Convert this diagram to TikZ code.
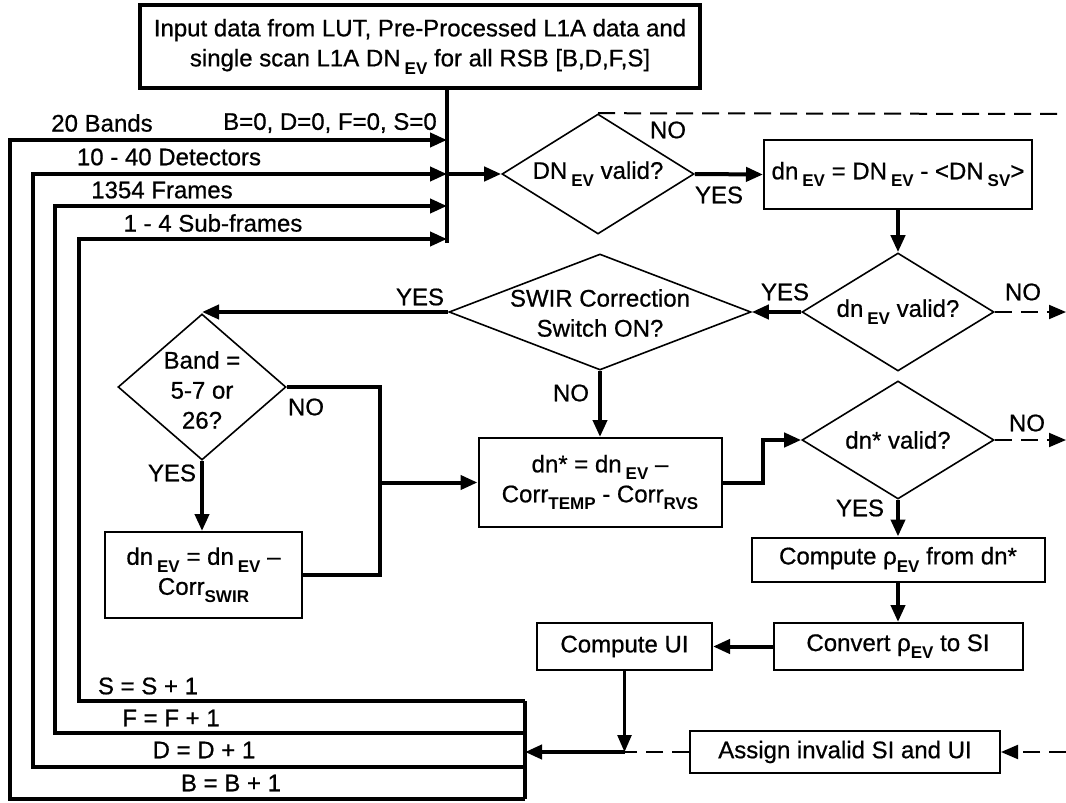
\documentclass[tikz,border=0pt]{standalone}
\usepackage{fontspec}
\setmainfont{Liberation Sans}[UprightFeatures={FakeBold=0.7}]
\usetikzlibrary{arrows.meta,shapes.geometric}
\newcommand{\sbs}[1]{\raisebox{-0.32em}{\fontsize{17}{17}\selectfont\bfseries #1}}
\tikzset{every picture/.style={line width=1.6pt},
  box/.style={draw,rectangle,line width=2pt,inner sep=0pt,align=center},
  dia/.style={draw,diamond,line width=1.6pt,inner sep=0pt},
  lbl/.style={inner sep=0pt,align=center,font=\fontsize{24}{30}\selectfont},
  thk/.style={line width=4pt},
  arr/.style={-{Triangle[length=17pt,width=14pt]}},
  dsh/.style={line width=2pt,dash pattern=on 17pt off 9pt},
}

\begin{document}
\begin{tikzpicture}[x=1pt,y=1pt,yscale=-1,xscale=1,font=\fontsize{24}{30}\selectfont]
\useasboundingbox (0,0) rectangle (1066,803);

%Shape: Rectangle
\node[box,line width=4pt,minimum width=560pt,minimum height=83pt] (input) at (420,46.5) {Input data from LUT, Pre-Processed L1A data and\\single scan L1A DN\,\sbs{EV} for all RSB [B,D,F,S]};
%Shape: Diamond
\node[dia,minimum width=192pt,minimum height=120pt] (dnv) at (598,174) {};
\node[lbl] (dnvt) at (dnv) {DN\,\sbs{EV} valid?};
%Shape: Rectangle
\node[box,minimum width=268pt,minimum height=69pt] (dnev) at (898,174.5) {dn\,\sbs{EV} = DN\,\sbs{EV} - <DN\,\sbs{SV}>};
%Shape: Diamond
\node[dia,minimum width=192pt,minimum height=118pt] (dnevv) at (898,312) {};
\node[lbl] (dnevvt) at (dnevv) {dn\,\sbs{EV} valid?};
%Shape: Diamond
\node[dia,minimum width=302pt,minimum height=116pt] (swir) at (600,312) {};
\node[lbl] (swirt) at (600,313) {SWIR Correction\\Switch ON?};
%Shape: Diamond
\node[dia,minimum width=168pt,minimum height=146pt] (band) at (202,387) {};
\node[lbl] (bandt) at (202,390) {Band =\\5-7 or\\26?};
%Shape: Rectangle
\node[box,minimum width=197pt,minimum height=86pt] (swirbox) at (203.5,575) {dn\,\sbs{EV} = dn\,\sbs{EV} --\\Corr\sbs{SWIR}};
%Shape: Rectangle
\node[box,minimum width=243pt,minimum height=89pt] (dnstar) at (600,482.5) {dn* = dn\,\sbs{EV} --\\Corr\sbs{TEMP} - Corr\sbs{RVS}};
%Shape: Diamond
\node[dia,minimum width=192pt,minimum height=118pt] (dnsv) at (898,440) {};
\node[lbl] (dnsvt) at (dnsv) {dn* valid?};
%Shape: Rectangle
\node[box,minimum width=293pt,minimum height=44pt] (rho) at (898,559.5) {Compute ρ\sbs{EV} from dn*};
%Shape: Rectangle
\node[box,minimum width=249pt,minimum height=47pt] (conv) at (898,646.5) {Convert ρ\sbs{EV} to SI};
%Shape: Rectangle
\node[box,minimum width=175pt,minimum height=47pt] (ui) at (624.5,646.5) {Compute UI};
%Shape: Rectangle
\node[box,minimum width=310pt,minimum height=42pt] (assign) at (845,752) {Assign invalid SI and UI};

% Coordinates
\coordinate (busT) at (447,88);
\coordinate (busB) at (447,243);
\coordinate (inB) at (447,140);
\coordinate (inD) at (447,174);
\coordinate (inF) at (447,206);
\coordinate (inS) at (447,239);
\coordinate (retS) at (525,701);
\coordinate (retF) at (525,733);
\coordinate (ret) at (525,752);
\coordinate (retD) at (525,767);
\coordinate (retB) at (525,799);
\coordinate (jn) at (380,482.5);
\coordinate (merge) at (624.5,752);
\coordinate (outA) at (1066,114);
\coordinate (outB) at (1066,312);
\coordinate (outC) at (1066,440);
\coordinate (outD) at (1066,752);

%Straight Lines
\draw[thk] (busT) -- (busB);
\draw[thk,arr] (retB) -- ++(-515,0) |- (inB);
\draw[thk,arr] (retD) -- ++(-492,0) |- (inD);
\draw[thk,arr] (retF) -- ++(-470,0) |- (inF);
\draw[thk,arr] (retS) -- ++(-446,0) |- (inS);
\draw[thk] (retS) -- (retB);
\draw[thk,arr] (inD) -- (dnv.west);
\draw[thk,arr] (dnv.east) -- (dnev.west);
\draw[dsh] (dnv.north) -- (outA);
\draw[thk,arr] (dnev.south) -- (dnevv.north);
\draw[dsh,arr] (dnevv.east) -- (outB);
\draw[thk,arr] (dnevv.west) -- (swir.east);
\draw[thk,arr] (swir.west) -- (swir.west -| band.north);
\draw[thk] (band.east) -| (jn) |- (swirbox.east);
\draw[thk,arr] (jn) -- (dnstar.west);
\draw[thk,arr] (band.south) -- (band.south |- swirbox.north);
\draw[thk,arr] (swir.south) -- (dnstar.north);
\draw[thk,arr] (dnstar.east) -- ++(40,0) |- (dnsv.west);
\draw[dsh,arr] (dnsv.east) -- (outC);
\draw[thk,arr] (dnsv.south) -- (rho.north);
\draw[thk,arr] (rho.south) -- (conv.north);
\draw[thk,arr] (conv.west) -- (ui.east);
\draw[line width=2.5pt,arr] (ui.south) -- (merge);
\draw[thk,arr] (merge) -- (ret);
\draw[dsh] (assign.west) -- (merge);
\draw[dsh,arr] (outD) -- (assign.east);

% Text Node
\node[lbl] (lB0) at (330,123) {B=0, D=0, F=0, S=0};
% Text Node
\node[lbl] (lband) at (102,123) {20 Bands};
% Text Node
\node[lbl] (ldet) at (169,157) {10 - 40 Detectors};
% Text Node
\node[lbl] (lfr) at (162,190) {1354 Frames};
% Text Node
\node[lbl] (lsub) at (213,223) {1 - 4 Sub-frames};
% Text Node
\node[lbl] (lS) at (148,686) {S = S + 1};
% Text Node
\node[lbl] (lF) at (171,718) {F = F + 1};
% Text Node
\node[lbl] (lD) at (204,750) {D = D + 1};
% Text Node
\node[lbl] (lBB) at (231,783) {B = B + 1};
% Text Node
\node[lbl] (no1) at (668,130) {NO};
% Text Node
\node[lbl] (yes1) at (719,195) {YES};
% Text Node
\node[lbl] (yes2) at (785,292) {YES};
% Text Node
\node[lbl] (no2) at (1023,292) {NO};
% Text Node
\node[lbl] (yes3) at (420,297) {YES};
% Text Node
\node[lbl] (no3) at (571,393) {NO};
% Text Node
\node[lbl] (no4) at (306,407) {NO};
% Text Node
\node[lbl] (yes4) at (172,473) {YES};
% Text Node
\node[lbl] (no5) at (1027,423) {NO};
% Text Node
\node[lbl] (yes5) at (860,508) {YES};

\end{tikzpicture}
\end{document}
